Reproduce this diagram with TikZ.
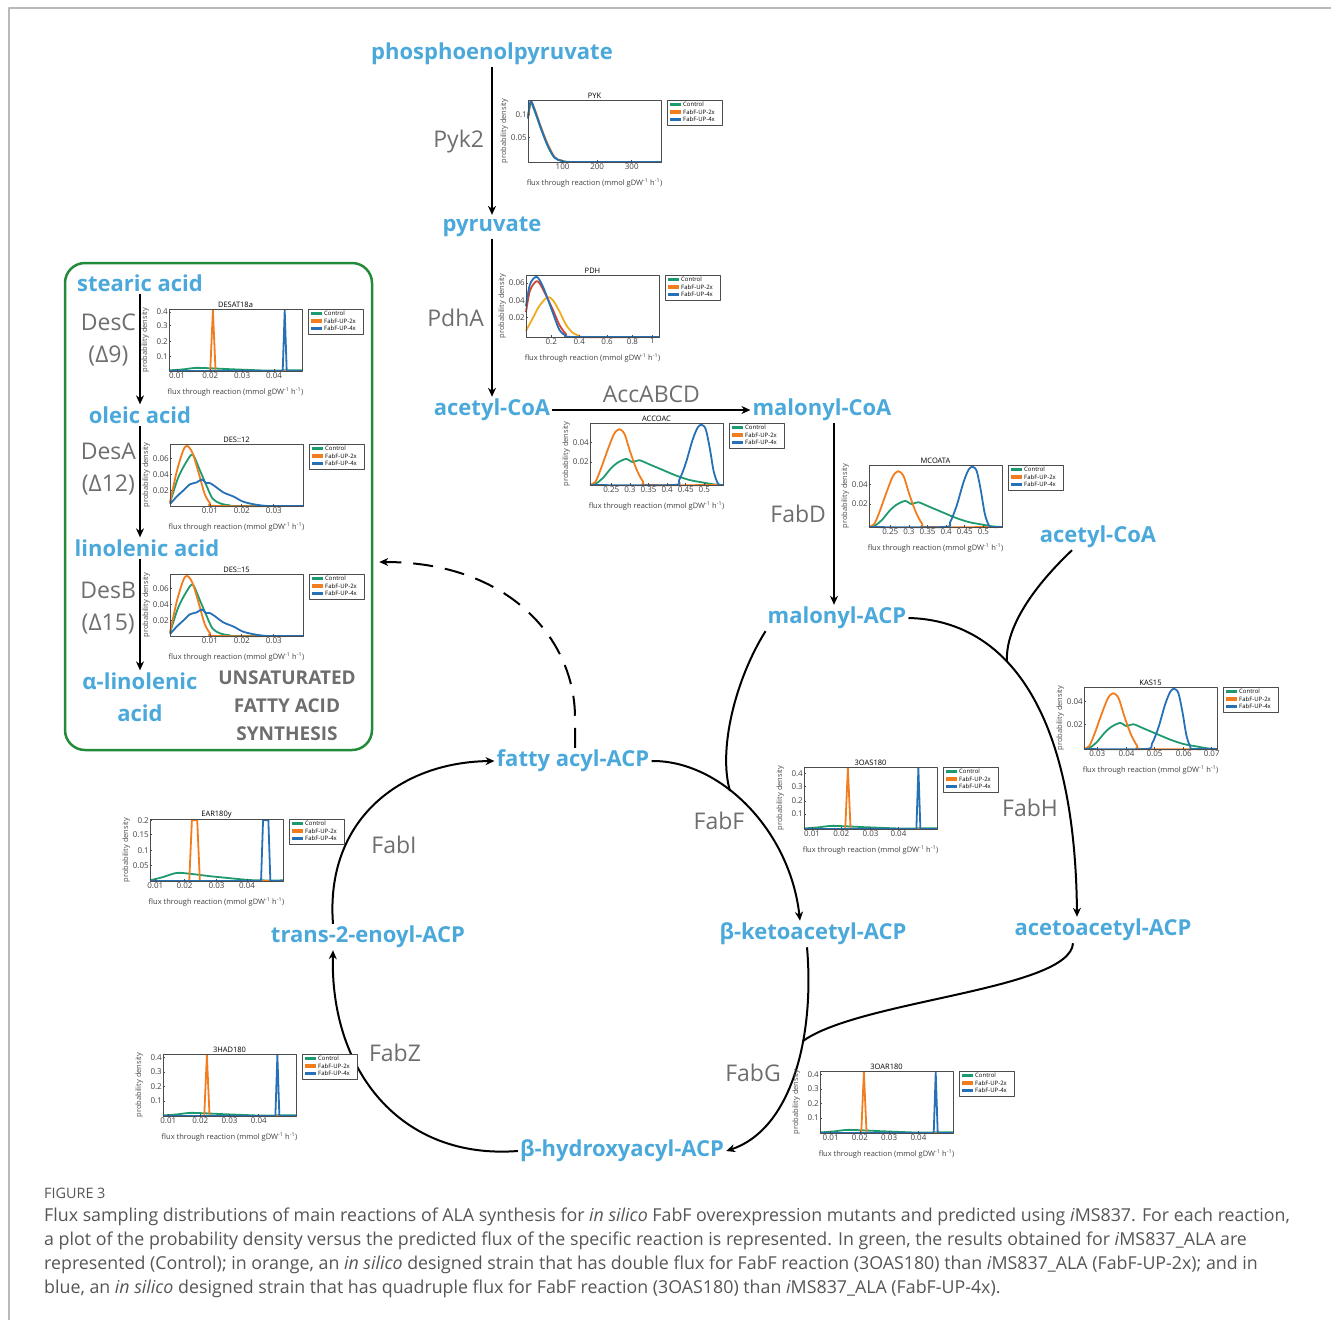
\documentclass[tikz,border=0pt]{standalone}
\usepackage{fontspec}
\setmainfont{Open Sans}
\usetikzlibrary{arrows.meta,positioning,calc}
\definecolor{metblue}{RGB}{75,168,218}
\definecolor{enzgray}{RGB}{110,110,110}
\definecolor{boxgreen}{RGB}{34,139,58}
\definecolor{cgreen}{RGB}{30,155,110}
\definecolor{corange}{RGB}{242,125,30}
\definecolor{cblue}{RGB}{38,112,182}
\definecolor{cred}{RGB}{215,65,45}
\definecolor{cgold}{RGB}{240,170,30}
\definecolor{capgray}{RGB}{85,85,85}
\definecolor{framegray}{RGB}{185,185,185}
\tikzstyle{met} = [text=metblue, font=\fontsize{22}{32}\selectfont\bfseries, inner sep=2pt, align=center]
\tikzstyle{enz} = [text=enzgray, font=\fontsize{23}{32}\selectfont, align=center, inner sep=3pt]
\tikzstyle{arrow} = [line width=2pt, -{Stealth[length=9pt,width=8pt]}]
\tikzstyle{link} = [line width=2pt]
\tikzstyle{axisbox} = [line width=0.8pt, draw=black!70]
\tikzstyle{legbox} = [line width=0.7pt, draw=black!70, fill=white]
\tikzstyle{curve} = [line width=1.8pt, line join=round]
\tikzstyle{plottxt} = [font=\fontsize{7.5}{8}\selectfont, inner sep=1pt]
\tikzstyle{ticktxt} = [font=\fontsize{8}{9}\selectfont, inner sep=1pt, text=black!75]
\tikzstyle{legtxt} = [font=\fontsize{6}{6}\selectfont, inner sep=0pt]
\tikzstyle{captxt} = [anchor=west, text=capgray, inner sep=0pt, font=\fontsize{17.8}{20}\selectfont]

% one flux sampling panel: id, left x, top y, title, y ticks, x ticks, curves
\newcommand{\fluxplot}[7]{%
\begin{scope}[shift={(#2,#3+62)}, x=133pt, y=62pt]
  #7
  \draw[axisbox] (0,0) rectangle (1,1);
  \node (#1-title) [plottxt, above] at (0.5,1) {#4};
  \foreach \p/\lab [count=\i] in {#5} {
    \draw[axisbox] (0,\p) -- ++(2pt,0);
    \node (#1-yt\i) [ticktxt, left] at (0,\p) {\lab};
  }
  \foreach \p/\lab [count=\i] in {#6} {
    \draw[axisbox] (\p,0) -- ++(0,2pt);
    \node (#1-xt\i) [ticktxt, below] at (\p,0) {\lab};
  }
  \node (#1-ylab) [plottxt, rotate=90, text=black!70] at (-0.18,0.5) {probability density};
  \node (#1-xlab) [plottxt, text=black!75] at (0.5,-0.34) {flux through reaction (mmol gDW\textsuperscript{-1} h\textsuperscript{-1})};
  \path (1,1) ++(6pt,0) coordinate (#1-leg);
  \draw[legbox] (#1-leg) rectangle ++(55pt,-25pt);
  \foreach \col/\lab [count=\i] in {cgreen/Control,corange/FabF-UP-2x,cblue/FabF-UP-4x} {
    \fill[\col] ([shift={(3pt,{-2.8pt-(\i-1)*7.5pt})}]#1-leg) rectangle ++(11pt,-3.6pt);
    \node (#1-lt\i) [legtxt, anchor=west] at ([shift={(16pt,{-4.6pt-(\i-1)*7.5pt})}]#1-leg) {\lab};
  }
\end{scope}}

% narrow peaks: orange pos, blue pos, half width of flat top, green height
\newcommand{\spikes}[4]{%
  \draw[cgreen,curve] plot[smooth] coordinates {(0,0.01) (0.1,{0.5*#4}) (0.2,#4) (0.3,{0.9*#4}) (0.45,{0.6*#4}) (0.6,{0.35*#4}) (0.75,{0.12*#4}) (0.85,0.01) (1,0.01)};
  \draw[corange,curve] (0,0) -- ({#1-0.02-#3},0) -- ({#1-#3},0.98) -- ({#1+#3},0.98) -- ({#1+0.02+#3},0) -- (1,0);
  \draw[cblue,curve] (0,0) -- ({#2-0.015-#3},0) -- ({#2-#3},0.98) -- ({#2+#3},0.98) -- ({#2+0.015+#3},0) -- (1,0);
}
% broad peaks: blue peak position
\newcommand{\humps}[1]{%
  \draw[cgreen,curve] plot[smooth, tension=0.5] coordinates {(0,0) (0.05,0.03) (0.1,0.12) (0.15,0.25) (0.2,0.35) (0.27,0.42) (0.32,0.37) (0.37,0.4) (0.45,0.33) (0.55,0.24) (0.65,0.15) (0.75,0.08) (0.85,0.04) (0.93,0.01) (1,0)};
  \draw[corange,curve] plot[smooth, tension=0.5] coordinates {(0,0) (0.04,0.05) (0.08,0.25) (0.13,0.55) (0.18,0.82) (0.22,0.9) (0.26,0.82) (0.3,0.55) (0.35,0.25) (0.4,0.05) (0.44,0) (1,0)};
  \draw[cblue,curve] plot[smooth, tension=0.5] coordinates {(0,0) ({#1-0.22},0) ({#1-0.17},0.08) ({#1-0.12},0.35) ({#1-0.07},0.72) ({#1-0.03},0.93) (#1,0.97) ({#1+0.03},0.9) ({#1+0.06},0.6) ({#1+0.09},0.22) ({#1+0.12},0.03) ({#1+0.14},0) (1,0)};
}
\newcommand{\descurves}{%
  \draw[cgreen,curve] plot[smooth, tension=0.5] coordinates {(0,0.05) (0.06,0.45) (0.12,0.7) (0.17,0.83) (0.22,0.6) (0.27,0.35) (0.32,0.12) (0.38,0.04) (0.45,0.01) (0.5,0) (1,0)};
  \draw[corange,curve] plot[smooth, tension=0.5] coordinates {(0,0.05) (0.05,0.55) (0.1,0.9) (0.13,0.97) (0.17,0.85) (0.22,0.5) (0.26,0.2) (0.3,0.05) (0.35,0) (1,0)};
  \draw[cblue,curve] plot[smooth, tension=0.5] coordinates {(0,0.03) (0.05,0.15) (0.1,0.25) (0.15,0.35) (0.2,0.38) (0.24,0.43) (0.27,0.37) (0.3,0.37) (0.35,0.3) (0.4,0.22) (0.48,0.15) (0.55,0.07) (0.65,0.02) (0.75,0) (1,0)};
}

\begin{document}
\begin{tikzpicture}[x=1pt, y=-1pt, line join=round]
  \useasboundingbox (0,0) rectangle (1331,1320);
  \draw[framegray, line width=1.5pt] (9,1320) -- (9,8) -- (1331,8);

  % main pathway
  \node (pep) [met] at (492,54) {phosphoenolpyruvate};
  \node (pyr) [met, on grid, below=173pt of pep] {pyruvate};
  \node (acoa) [met, on grid, below=183pt of pyr] {acetyl-CoA};
  \node (malcoa) [met, on grid, right=330pt of acoa] {malonyl-CoA};
  \node (malacp) [met] at (837,618) {malonyl-ACP};
  \node (acoatwo) [met] at (1098,537) {acetyl-CoA};
  \node (fatacp) [met] at (573,761) {fatty acyl-ACP};
  \node (enoyl) [met] at (368,937) {trans-2-enoyl-ACP};
  \node (bketo) [met] at (813,934) {β-ketoacetyl-ACP};
  \node (acac) [met] at (1103,930) {acetoacetyl-ACP};
  \node (hyd) [met] at (622,1151) {β-hydroxyacyl-ACP};

  \draw [arrow] (pep) -- node (pyk2) [enz, left, xshift=-4pt] {Pyk2} (pyr);
  \draw [arrow] (pyr) -- node (pdha) [enz, left, xshift=-4pt] {PdhA} (acoa);
  \draw [arrow] (acoa) -- node (accabcd) [enz, above, yshift=3pt] {AccABCD} (malcoa);
  \draw [arrow] ([xshift=12pt]malcoa.south) -- node (fabd) [enz, left, xshift=-4pt] {FabD} ([xshift=-3pt]malacp.north);

  % condensation and reduction cycle
  \coordinate (fabFjoin) at (730,791);
  \coordinate (fabHjoin) at (1007,662);
  \coordinate (fabGjoin) at (803,1041);
  \draw [arrow] (fatacp.east) .. controls (720,760) and (790,830) .. ([xshift=-13pt]bketo.north);
  \draw [link] (malacp.south west) .. controls (735,680) and (718,750) .. (fabFjoin);
  \draw [arrow] (malacp.east) .. controls (1000,620) and (1075,700) .. ([xshift=-26pt]acac.north);
  \draw [link] ([xshift=-26pt]acoatwo.south) .. controls (1030,590) and (1005,630) .. (fabHjoin);
  \draw [arrow] ([xshift=-6pt]bketo.south) .. controls (815,1040) and (790,1130) .. (hyd.east);
  \draw [link] ([xshift=-30pt]acac.south) .. controls (1070,990) and (860,1000) .. (fabGjoin);
  \draw [arrow] (hyd.west) .. controls (400,1160) and (330,1070) .. ([xshift=-35pt]enoyl.south);
  \draw [arrow] ([xshift=-35pt]enoyl.north) .. controls (325,820) and (400,762) .. (fatacp.west);

  \node (fabf) [enz] at (719,821) {FabF};
  \node (fabh) [enz] at (1030,808) {FabH};
  \node (fabi) [enz] at (394,845) {FabI};
  \node (fabz) [enz] at (395,1053) {FabZ};
  \node (fabg) [enz] at (753,1073) {FabG};

  % desaturation box
  \node (unsatbox) [draw=boxgreen, line width=2.5pt, rounded corners=20pt, minimum width=307pt, minimum height=487pt] at (218.5,506.5) {};
  \node (stearic) [met] at (140,283) {stearic acid};
  \node (oleic) [met, on grid, below=132pt of stearic] {oleic acid};
  \node (linolenic) [met, on grid, below=133pt of oleic, xshift=7pt] {linolenic acid};
  \node (ala) [met] at (140,697) {α-linolenic\\acid};
  \node (unsattxt) [text=enzgray, font=\fontsize{19}{28}\selectfont\bfseries, align=center] at (287,706) {UNSATURATED\\FATTY ACID\\SYNTHESIS};
  \draw [arrow] (stearic) -- node (desc) [enz, left, yshift=9pt] {DesC\\(Δ9)} (oleic);
  \draw [arrow] (oleic) -- node (desa) [enz, left, yshift=12pt] {DesA\\(Δ12)} ([xshift=-7pt]linolenic.north);
  \draw [arrow] ([xshift=-7pt]linolenic.south) -- node (desb) [enz, left, yshift=6pt] {DesB\\(Δ15)} (ala.north);
  \draw [line width=2pt, dash pattern=on 20pt off 12pt, -{Stealth[length=9pt,width=8pt]}] ([xshift=2pt]fatacp.north) -- ++(0,-30) .. controls (575,640) and (510,562) .. ([xshift=6pt,yshift=-55.5pt]unsatbox.east);

  % flux sampling panels
  \fluxplot{pyk}{528}{100}{PYK}{0.76/0.1,0.39/0.05}{0.26/100,0.52/200,0.78/300}{%
    \draw[cgreen,curve] plot[smooth, tension=0.5] coordinates {(0,0.7) (0.02,0.95) (0.05,0.82) (0.1,0.52) (0.15,0.25) (0.2,0.07) (0.26,0.02) (0.35,0) (1,0)};
    \draw[corange,curve] plot[smooth, tension=0.5] coordinates {(0,0.72) (0.02,0.97) (0.05,0.85) (0.1,0.55) (0.15,0.28) (0.2,0.08) (0.25,0.02) (0.33,0) (1,0)};
    \draw[cblue,curve] plot[smooth, tension=0.5] coordinates {(0,0.72) (0.02,0.98) (0.05,0.84) (0.1,0.53) (0.15,0.26) (0.2,0.07) (0.25,0.02) (0.32,0) (1,0)};}
  \fluxplot{pdh}{526}{275}{PDH}{0.87/0.06,0.58/0.04,0.31/0.02}{0.19/0.2,0.4/0.4,0.61/0.6,0.8/0.8,0.95/1}{%
    \draw[cgold,curve] plot[smooth, tension=0.5] coordinates {(0,0.1) (0.05,0.3) (0.1,0.5) (0.16,0.64) (0.2,0.6) (0.25,0.42) (0.3,0.2) (0.35,0.07) (0.4,0.02) (0.45,0) (1,0)};
    \draw[cred,curve] plot[smooth, tension=0.5] coordinates {(0,0.4) (0.03,0.75) (0.08,0.9) (0.12,0.8) (0.2,0.45) (0.25,0.2) (0.3,0.05) (0.35,0) (1,0)};
    \draw[cblue,curve] plot[smooth, tension=0.5] coordinates {(0,0.5) (0.03,0.85) (0.08,0.97) (0.13,0.8) (0.2,0.4) (0.25,0.12) (0.3,0.02) (0.35,0) (1,0)};}
  \fluxplot{desat}{169}{309}{DESAT18a}{0.95/0.4,0.73/0.3,0.48/0.2,0.23/0.1}{0.06/0.01,0.31/0.02,0.55/0.03,0.79/0.04}{\spikes{0.33}{0.87}{0}{0.05}}
  \fluxplot{destwelve}{170}{444}{DES::12}{0.76/0.06,0.51/0.04,0.25/0.02}{0.3/0.01,0.54/0.02,0.78/0.03}{\descurves}
  \fluxplot{desfifteen}{170}{574}{DES::15}{0.76/0.06,0.51/0.04,0.25/0.02}{0.3/0.01,0.54/0.02,0.78/0.03}{\descurves}
  \fluxplot{accoac}{590}{423}{ACCOAC}{0.68/0.04,0.37/0.02}{0.16/0.25,0.3/0.3,0.44/0.35,0.58/0.4,0.72/0.45,0.86/0.5}{\humps{0.84}}
  \fluxplot{mcoata}{869}{465}{MCOATA}{0.68/0.04,0.37/0.02}{0.16/0.25,0.3/0.3,0.44/0.35,0.58/0.4,0.72/0.45,0.86/0.5}{\humps{0.78}}
  \fluxplot{kas}{1084}{687}{KAS15}{0.76/0.04,0.39/0.02}{0.1/0.03,0.32/0.04,0.53/0.05,0.75/0.06,0.96/0.07}{\humps{0.68}}
  \fluxplot{oas}{804}{767}{3OAS180}{0.9/0.4,0.69/0.3,0.45/0.2,0.24/0.1}{0.06/0.01,0.28/0.02,0.5/0.03,0.71/0.04}{\spikes{0.33}{0.86}{0}{0.05}}
  \fluxplot{ear}{150}{819}{EAR180y}{0.98/0.2,0.75/0.15,0.49/0.1,0.25/0.05}{0.04/0.01,0.26/0.02,0.5/0.03,0.73/0.04}{\spikes{0.335}{0.87}{0.02}{0.13}}
  \fluxplot{had}{163}{1054}{3HAD180}{0.94/0.4,0.71/0.3,0.48/0.2,0.24/0.1}{0.04/0.01,0.28/0.02,0.5/0.03,0.72/0.04}{\spikes{0.33}{0.86}{0}{0.05}}
  \fluxplot{oar}{820}{1071}{3OAR180}{0.94/0.4,0.71/0.3,0.48/0.2,0.24/0.1}{0.08/0.01,0.3/0.02,0.52/0.03,0.74/0.04}{\spikes{0.33}{0.87}{0}{0.05}}

  % caption
  \node (figlabel) [captxt, font=\fontsize{14.4}{16}\selectfont] at (44,1193) {FIGURE 3};
  \node (capone) [captxt] at (44,1217) {Flux sampling distributions of main reactions of ALA synthesis for \textit{in silico} FabF overexpression mutants and predicted using \textit{i}MS837. For each reaction,};
  \node (captwo) [captxt] at (44,1241) {a plot of the probability density versus the predicted flux of the specific reaction is represented. In green, the results obtained for \textit{i}MS837\_ALA are};
  \node (capthree) [captxt] at (44,1265) {represented (Control); in orange, an \textit{in silico} designed strain that has double flux for FabF reaction (3OAS180) than \textit{i}MS837\_ALA (FabF-UP-2x); and in};
  \node (capfour) [captxt] at (44,1289) {blue, an \textit{in silico} designed strain that has quadruple flux for FabF reaction (3OAS180) than \textit{i}MS837\_ALA (FabF-UP-4x).};
\end{tikzpicture}
\end{document}
